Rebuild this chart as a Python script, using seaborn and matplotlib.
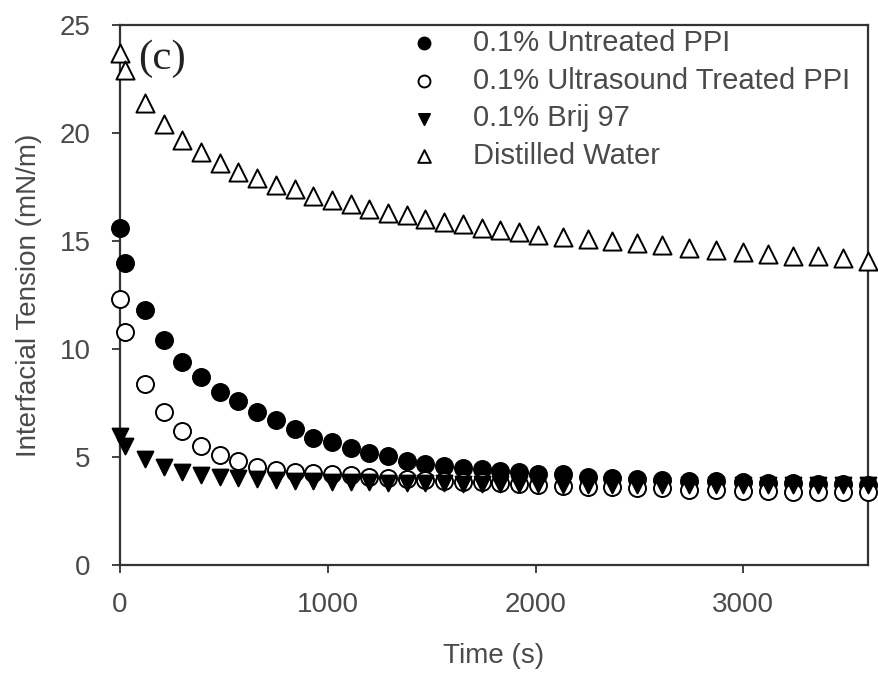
import matplotlib
matplotlib.use("Agg")
import matplotlib.pyplot as plt
import seaborn as sns

# tempi (s), condivisi da tutte le serie
tempo = [0, 25, 120, 210, 300, 390, 480, 570, 660, 750, 840, 930, 1020, 1110,
         1200, 1290, 1380, 1470, 1560, 1650, 1740, 1830, 1920, 2010, 2130, 2250,
         2370, 2490, 2610, 2740, 2870, 3000, 3120, 3240, 3360, 3480, 3600]

# tensione interfacciale (mN/m)
untreated_ppi = [15.6, 14.0, 11.8, 10.4, 9.4, 8.7, 8.0, 7.6, 7.1, 6.7, 6.3, 5.9,
                 5.7, 5.4, 5.2, 5.05, 4.8, 4.7, 4.6, 4.5, 4.45, 4.35, 4.3, 4.2,
                 4.2, 4.1, 4.05, 4.0, 3.95, 3.9, 3.9, 3.85, 3.8, 3.8, 3.75, 3.75, 3.7]
ultrasound_ppi = [12.3, 10.8, 8.4, 7.1, 6.2, 5.5, 5.1, 4.8, 4.55, 4.4, 4.3, 4.25,
                  4.2, 4.15, 4.1, 4.05, 4.0, 3.95, 3.9, 3.85, 3.85, 3.8, 3.75, 3.7,
                  3.65, 3.6, 3.6, 3.55, 3.55, 3.5, 3.5, 3.45, 3.45, 3.4, 3.4, 3.4, 3.4]
brij_97 = [6.0, 5.5, 4.9, 4.55, 4.3, 4.15, 4.1, 4.05, 4.0, 3.95, 3.9, 3.9, 3.85,
           3.85, 3.85, 3.8, 3.8, 3.8, 3.8, 3.75, 3.75, 3.75, 3.75, 3.75, 3.7, 3.7,
           3.7, 3.7, 3.7, 3.7, 3.7, 3.7, 3.7, 3.7, 3.7, 3.7, 3.7]
acqua_distillata = [23.7, 22.9, 21.4, 20.4, 19.7, 19.1, 18.6, 18.2, 17.9, 17.6,
                    17.4, 17.1, 16.9, 16.7, 16.5, 16.3, 16.2, 16.0, 15.9, 15.8,
                    15.6, 15.5, 15.4, 15.3, 15.2, 15.1, 15.0, 14.9, 14.8, 14.7,
                    14.6, 14.5, 14.4, 14.3, 14.3, 14.2, 14.1]

etichette = ["0.1% Untreated PPI", "0.1% Ultrasound Treated PPI",
             "0.1% Brij 97", "Distilled Water"]
x_ticks = [0, 1000, 2000, 3000]
y_ticks = [0, 5, 10, 15, 20, 25]

sns.set_style("ticks")
plt.rcParams["font.family"] = ["Liberation Sans", "DejaVu Sans"]

grigio = "#4a4a4a"
fig = plt.figure(figsize=(8.79, 6.76), dpi=100)
ax = fig.add_axes([0.1365, 0.164, 0.851, 0.799])

serie = [
    (untreated_ppi, "o", "black", 150),
    (ultrasound_ppi, "o", "white", 150),
    (brij_97, "v", "black", 130),
    (acqua_distillata, "^", "white", 170),
]
for (valori, marker, faccia, dim), nome in zip(serie, etichette):
    sns.scatterplot(x=tempo, y=valori, marker=marker, s=dim, facecolor=faccia,
                    edgecolor="black", linewidth=1.4, label=nome, ax=ax,
                    clip_on=False, zorder=3)

ax.set_xlim(0, 3600)
ax.set_ylim(0, 25)
ax.set_xticks(x_ticks)
ax.set_yticks(y_ticks)
ax.tick_params(axis="both", direction="out", length=6, width=1.3,
               labelsize=20, labelcolor=grigio, color="#333333")
ax.tick_params(axis="x", pad=13)
ax.tick_params(axis="y", pad=15)
for lato in ["top", "right", "left", "bottom"]:
    ax.spines[lato].set_visible(True)
    ax.spines[lato].set_linewidth(1.6)
    ax.spines[lato].set_color("#333333")

ax.set_xlabel("Time (s)", fontsize=20, color=grigio, labelpad=18)
ax.set_ylabel("Interfacial Tension (mN/m)", fontsize=20, color=grigio, labelpad=13)

ax.text(0.024, 0.937, "(c)", transform=ax.transAxes, va="center", ha="left",
        fontsize=31, family=["Liberation Serif"], color="#222222")

leg = ax.legend(loc="upper right", bbox_to_anchor=(1.0, 1.025), frameon=False,
                fontsize=21, markerscale=0.7, labelspacing=0.33,
                handletextpad=1.1, handlelength=1.2, borderaxespad=0.2)
for t in leg.get_texts():
    t.set_color(grigio)

fig.savefig("out.png", dpi=100)
plt.close()
